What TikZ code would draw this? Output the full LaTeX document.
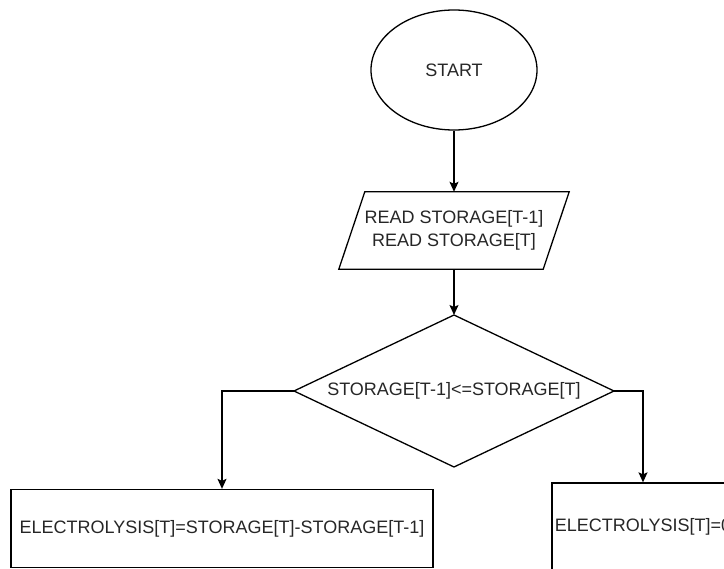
\documentclass[tikz,border=0pt]{standalone}
\usepackage{fontspec}
\setmainfont{Liberation Sans}
\usetikzlibrary{shapes.geometric,arrows.meta,calc}
\begin{document}
\begin{tikzpicture}[x=1pt,y=-1pt,
  every node/.style={text=black!85, font=\fontsize{18}{23}\selectfont, inner sep=0pt},
  outline/.style={draw=black, line width=1.3pt},
  flow/.style={draw=black, line width=1.3pt, -{Stealth[length=10pt,width=9pt,inset=2pt]}},
  procbox/.style={outline, rectangle, minimum width=#1, minimum height=78pt},
]
\useasboundingbox (0,0) rectangle (724,569);
\clip (0,0) rectangle (724,569);

% start terminal
\node[outline, ellipse, minimum width=166pt, minimum height=120pt] (start) at (454,70) {START};

% input step (parallelogram drawn around a plain node)
\node[minimum width=230pt, minimum height=77pt, align=center] (read) at (454,230.5)
  {READ STORAGE[T-1]\\READ STORAGE[T]};
\draw[outline] ($(read.north west)+(26,0)$) -- (read.north east)
  -- ($(read.south east)+(-26,0)$) -- (read.south west) -- cycle;

% decision
\node (cond) at (454,391) {STORAGE[T-1]<=STORAGE[T]};
\coordinate (cond-n) at (454,315);
\coordinate (cond-s) at (454,467);
\coordinate (cond-w) at (294,391);
\coordinate (cond-e) at (614,391);
\draw[outline] (cond-n) -- (cond-e) -- (cond-s) -- (cond-w) -- cycle;

% outcomes
\node[procbox=422pt] (yes) at (222,528.5) {ELECTROLYSIS[T]=STORAGE[T]-STORAGE[T-1]};
\node[procbox=182pt, minimum height=88pt] (no) at (643,527) {ELECTROLYSIS[T]=0};

% connectors
\draw[flow] (start.south) -- (read.north);
\draw[flow] (read.south) -- (cond-n);
\draw[flow] (cond-w) -| (yes.north);
\draw[flow] (cond-e) -| (no.north);
\end{tikzpicture}
\end{document}
